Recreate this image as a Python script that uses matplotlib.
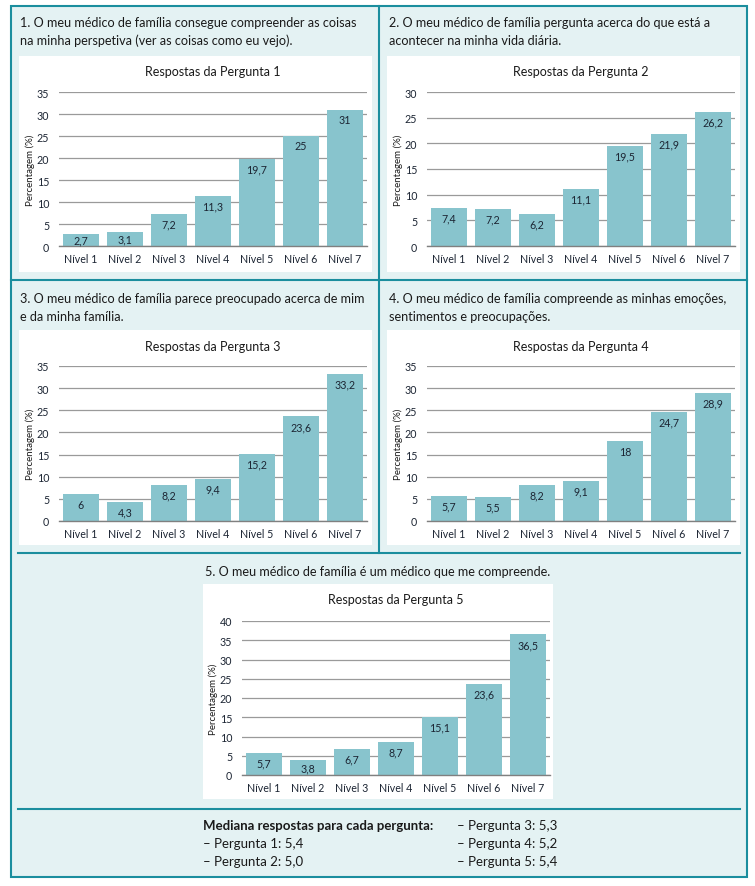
import matplotlib
matplotlib.use("Agg")
import matplotlib.pyplot as plt
from matplotlib.patches import Rectangle
from matplotlib.lines import Line2D

plt.rcParams['font.family'] = ['Lato', 'DejaVu Sans']

W, H = 755, 887

categories = ["Nível 1", "Nível 2", "Nível 3", "Nível 4", "Nível 5", "Nível 6", "Nível 7"]
q1 = [2.7, 3.1, 7.2, 11.3, 19.7, 25, 31]
q2 = [7.4, 7.2, 6.2, 11.1, 19.5, 21.9, 26.2]
q3 = [6, 4.3, 8.2, 9.4, 15.2, 23.6, 33.2]
q4 = [5.7, 5.5, 8.2, 9.1, 18, 24.7, 28.9]
q5 = [5.7, 3.8, 6.7, 8.7, 15.1, 23.6, 36.5]
ymax = [35, 30, 35, 35, 40]
chart_titles = ["Respostas da Pergunta 1", "Respostas da Pergunta 2", "Respostas da Pergunta 3",
                "Respostas da Pergunta 4", "Respostas da Pergunta 5"]
questions = [
    "1. O meu médico de família consegue compreender as coisas\nna minha perspetiva (ver as coisas como eu vejo).",
    "2. O meu médico de família pergunta acerca do que está a\nacontecer na minha vida diária.",
    "3. O meu médico de família parece preocupado acerca de mim\ne da minha família.",
    "4. O meu médico de família compreende as minhas emoções,\nsentimentos e preocupações.",
    "5. O meu médico de família é um médico que me compreende.",
]
median_title = "Mediana respostas para cada pergunta:"
median_items = ["– Pergunta 1: 5,4", "– Pergunta 2: 5,0", "– Pergunta 3: 5,3",
                "– Pergunta 4: 5,2", "– Pergunta 5: 5,4"]

BG = "#e4f2f3"
BORDER = "#1b8e9e"
BAR = "#88c4cd"
TXT = "#1a1a1a"
LBL = "#1c2533"
GRID = "#9a9a9a"

fig = plt.figure(figsize=(W / 100, H / 100), dpi=100)
fig.patch.set_facecolor("white")


def fx(x):
    return x / W


def fy(y):
    return 1 - y / H


def rect(x0, y0, x1, y1, fc, ec="none", lw=0, z=0):
    fig.patches.append(Rectangle((fx(x0), fy(y1)), fx(x1) - fx(x0), fy(y0) - fy(y1),
                                 transform=fig.transFigure, facecolor=fc, edgecolor=ec,
                                 linewidth=lw, zorder=z))


def hline(x0, x1, y, lw=1.5):
    fig.lines.append(Line2D([fx(x0), fx(x1)], [fy(y), fy(y)], transform=fig.transFigure,
                            color=BORDER, linewidth=lw, zorder=-1))


def vline(x, y0, y1, lw=1.5):
    fig.lines.append(Line2D([fx(x), fx(x)], [fy(y0), fy(y1)], transform=fig.transFigure,
                            color=BORDER, linewidth=lw, zorder=-1))


# outer box
rect(11, 7, 747, 878, BG, BORDER, 1.5, z=-3)
vline(379, 7, 554)
hline(11, 747, 281)
hline(18, 740, 554)
hline(18, 740, 810)


def chart(values, title, ym, panel, axbox, title_y, ylab_x):
    px0, py0, px1, py1 = panel
    rect(px0, py0, px1, py1, "white", z=-2)
    ax0, ay_top, ax1, ay_bot = axbox
    ax = fig.add_axes([fx(ax0), fy(ay_bot), fx(ax1) - fx(ax0), fy(ay_top) - fy(ay_bot)])
    ax.set_zorder(5)
    ax.set_facecolor("none")
    xs = list(range(len(categories)))
    ax.bar(xs, values, width=0.82, color=BAR, zorder=3)
    ax.set_xlim(-0.5, 6.5)
    ax.set_ylim(0, ym)
    ax.set_yticks(range(0, ym + 1, 5))
    ax.set_xticks(xs)
    ax.set_xticklabels(categories)
    ax.tick_params(axis="both", length=0, labelsize=7.7, colors=LBL)
    ax.tick_params(axis="y", pad=7)
    ax.tick_params(axis="x", pad=5)
    ax.set_axisbelow(True)
    ax.grid(axis="y", color=GRID, linewidth=0.9)
    for s in ["top", "right", "left"]:
        ax.spines[s].set_visible(False)
    ax.spines["bottom"].set_color("#808080")
    ax.spines["bottom"].set_linewidth(1.0)
    ax.spines["bottom"].set_zorder(4)
    px_per_unit = (ay_bot - ay_top) / ym
    for x, v in zip(xs, values):
        off = min(10.0, v * px_per_unit / 2) / px_per_unit
        lab = (("%g" % v).replace(".", ","))
        ax.text(x, v - off, lab, ha="center", va="center", fontsize=7.7, color=LBL, zorder=5)
    fig.text(fx((ax0 + ax1) / 2), fy(title_y), title, ha="center", va="center",
             fontsize=9.0, color=TXT)
    fig.text(fx(ylab_x), fy((ay_top + ay_bot) / 2), "Percentagem (%)", rotation=90,
             ha="center", va="center", fontsize=7, color=TXT)
    return ax


chart(q1, chart_titles[0], ymax[0], (19, 57, 372, 273), (59, 93, 367, 247), 72, 30)
chart(q2, chart_titles[1], ymax[1], (387, 57, 740, 273), (427, 93, 735, 247), 72, 398)
chart(q3, chart_titles[2], ymax[2], (19, 331, 372, 546), (59, 367, 367, 522), 347, 30)
chart(q4, chart_titles[3], ymax[3], (387, 331, 740, 546), (427, 367, 735, 522), 347, 398)
chart(q5, chart_titles[4], ymax[4], (203, 585, 553, 800), (242, 622, 550, 776), 600, 213)

# question headers
for txt, (x, y) in zip(questions[:4], [(20, 32), (389, 32), (20, 308), (389, 308)]):
    fig.text(fx(x), fy(y), txt, ha="left", va="center", fontsize=9.1, color=TXT, linespacing=1.55)
fig.text(fx(378), fy(572), questions[4], ha="center", va="center", fontsize=9.1, color=TXT)

# medians
fig.text(fx(203), fy(826), median_title, ha="left", va="center", fontsize=9.5,
         fontweight="bold", color=TXT)
for item, (x, y) in zip(median_items, [(203, 844), (203, 862), (457, 826), (457, 844), (457, 862)]):
    fig.text(fx(x), fy(y), item, ha="left", va="center", fontsize=9.5, color=TXT)

fig.savefig("out.png", dpi=100, facecolor="white")
